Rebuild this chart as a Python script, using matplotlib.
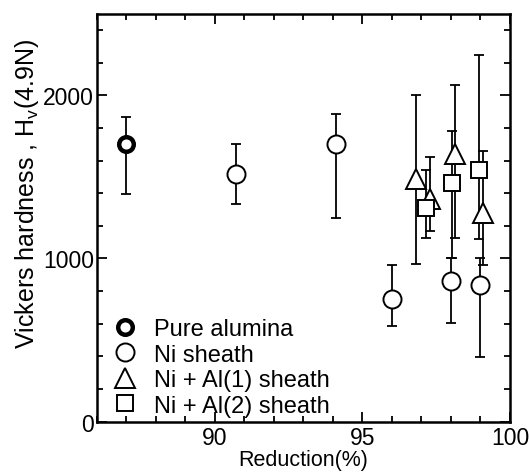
import matplotlib
matplotlib.use('Agg')
from matplotlib import pyplot as plt
from matplotlib.lines import Line2D
from matplotlib.ticker import MultipleLocator
import numpy as np

plt.rcParams['font.family'] = ['Liberation Sans', 'DejaVu Sans']

# Pure alumina
alumina_x = [87.0]
alumina_y = [1700]
alumina_lo = [1395]
alumina_hi = [1865]

# Ni sheath
ni_x = [90.7, 94.1, 96.0, 98.0, 99.0]
ni_y = [1520, 1700, 750, 860, 835]
ni_lo = [1335, 1250, 585, 605, 395]
ni_hi = [1700, 1885, 960, 1005, 1000]

# Ni + Al(1) sheath
al1_x = [96.8, 97.3, 98.15, 99.1]
al1_y = [1490, 1365, 1640, 1280]
al1_lo = [965, 1170, 1125, 960]
al1_hi = [2005, 1620, 2065, 1660]

# Ni + Al(2) sheath
al2_x = [97.15, 98.05, 98.95]
al2_y = [1310, 1465, 1545]
al2_lo = [1125, 1005, 1120]
al2_hi = [1540, 1780, 2250]

fig = plt.figure(figsize=(5.29, 4.77), dpi=100)
ax = fig.add_axes([0.183, 0.114, 0.781, 0.855])


def draw(x, y, lo, hi, marker, ms, mew):
    y = np.array(y)
    err = [y - np.array(lo), np.array(hi) - y]
    ax.errorbar(x, y, yerr=err, fmt='none', ecolor='black', elinewidth=1.3,
                capsize=3.5, capthick=1.3, zorder=2)
    ax.plot(x, y, linestyle='none', marker=marker, ms=ms, mew=mew,
            mfc='white', mec='black', zorder=3)


draw(ni_x, ni_y, ni_lo, ni_hi, 'o', 13, 1.4)
draw(al1_x, al1_y, al1_lo, al1_hi, '^', 14, 1.4)
draw(al2_x, al2_y, al2_lo, al2_hi, 's', 12, 1.4)
draw(alumina_x, alumina_y, alumina_lo, alumina_hi, 'o', 10.5, 3.2)

ax.set_xlim(86, 100)
ax.set_ylim(0, 2500)
ax.xaxis.set_major_locator(MultipleLocator(5))
ax.xaxis.set_minor_locator(MultipleLocator(1))
ax.yaxis.set_major_locator(MultipleLocator(1000))
ax.yaxis.set_minor_locator(MultipleLocator(200))
ax.tick_params(which='both', direction='in', top=True, right=True,
               labelsize=16.5, width=1.3)
ax.tick_params(which='major', length=7, pad=2)
ax.tick_params(axis='x', which='major', pad=3)
ax.tick_params(which='minor', length=4)
ax.set_xticks([90, 95, 100])
ax.set_yticks([0, 1000, 2000])
for s in ax.spines.values():
    s.set_linewidth(1.8)

ax.set_xlabel('Reduction(%)', fontsize=15.5, labelpad=0)
ax.set_ylabel(r'Vickers hardness , H$_\mathregular{v}$(4.9N)', fontsize=18)
ax.yaxis.set_label_coords(-0.135, 0.56)

handles = [
    Line2D([], [], ls='none', marker='o', ms=10.5, mew=3.2, mfc='white', mec='black'),
    Line2D([], [], ls='none', marker='o', ms=13, mew=1.4, mfc='white', mec='black'),
    Line2D([], [], ls='none', marker='^', ms=14, mew=1.4, mfc='white', mec='black'),
    Line2D([], [], ls='none', marker='s', ms=12, mew=1.4, mfc='white', mec='black'),
]
labels = ['Pure alumina', 'Ni sheath', 'Ni + Al(1) sheath', 'Ni + Al(2) sheath']
ax.legend(handles, labels, loc='lower left', bbox_to_anchor=(0.039, 0.012),
          frameon=False, fontsize=17, handlelength=1.0, handletextpad=0.75,
          labelspacing=0.15, borderaxespad=0, borderpad=0)

fig.savefig('out.png', dpi=100)
